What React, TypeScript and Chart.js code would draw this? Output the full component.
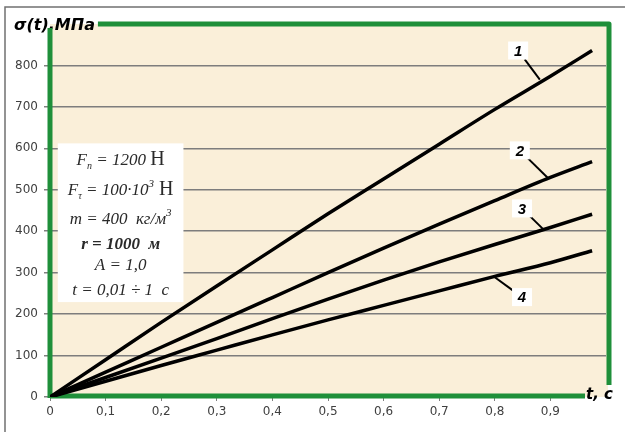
import React, { useEffect, useRef } from 'react';
import { Chart, registerables } from 'chart.js';

Chart.register(...registerables);

// ---- data ----
const tValues = [0, 0.1, 0.2, 0.3, 0.4, 0.5, 0.6, 0.7, 0.8, 0.9, 0.975];
const curve1 = [0, 90, 180, 268, 355, 442, 526, 610, 694, 774, 836];
const curve2 = [0, 60, 120, 180, 240, 300, 359, 417, 474, 530, 568];
const curve3 = [0, 47, 94, 141, 189, 236, 282, 326, 368, 409, 441];
const curve4 = [0, 38, 76, 113, 150, 186, 221, 256, 291, 324, 353];
const seriesNames = ['1', '2', '3', '4'];
const seriesValues = [curve1, curve2, curve3, curve4];

const yMin = 0;
const yMax = 900;
const yStep = 100;
const yLastLabel = 800;
const xMin = 0;
const xMax = 1;
const xStep = 0.1;
const xLastLabel = 0.9;

const yTitle = 'σ(t),МПа';
const xTitle = 't, c';

// parameter box text: [text, style]
const paramLines: [string, string][][] = [
  [['F', 'i'], ['п', 'sub'], [' = 1200 ', 'i'], ['Н', 'u']],
  [['F', 'i'], ['τ', 'sub'], [' = 100·10', 'i'], ['3', 'sup'], [' Н', 'u']],
  [['m = 400  кг/м', 'i'], ['3', 'sup']],
  [['r = 1000  м', 'ib']],
  [['A = 1,0', 'i']],
  [['t = 0,01 ÷ 1  c', 'i']],
];

// annotation anchors (data space)
const labelT = [0.842, 0.845, 0.849, 0.849];
const labelS = [836, 595, 455, 241];
const leaderT = [0.881, 0.896, 0.887, 0.8];
const leaderS = [766, 528, 405, 289];
const boxT = [0.014, 0.24];
const boxS = [612, 229];

const GREEN = '#1f8f3a';
const BEIGE = '#faefd9';

function fontFor(style: string): string {
  const fam = '"Liberation Serif", "Times New Roman", serif';
  switch (style) {
    case 'sub':
      return `italic 10px ${fam}`;
    case 'sup':
      return `italic 11px ${fam}`;
    case 'u':
      return `20px ${fam}`;
    case 'ib':
      return `italic bold 17px ${fam}`;
    default:
      return `italic 17px ${fam}`;
  }
}

const decorPlugin = {
  id: 'decor',
  beforeDraw(chart: any) {
    const { ctx, width, height, scales } = chart;
    const x = scales.x;
    const y = scales.y;
    ctx.save();
    ctx.fillStyle = '#ffffff';
    ctx.fillRect(0, 0, width, height);
    // outer frame
    ctx.strokeStyle = '#707070';
    ctx.lineWidth = 1.5;
    ctx.strokeRect(5, 7, width + 10, height + 10);
    // plot background
    const l = x.getPixelForValue(xMin);
    const r = x.getPixelForValue(xMax);
    const t = y.getPixelForValue(yMax);
    const b = y.getPixelForValue(yMin);
    ctx.fillStyle = BEIGE;
    ctx.fillRect(l, t, r - l + 2, b - t);
    ctx.restore();
  },
  beforeDatasetsDraw(chart: any) {
    const { ctx, scales } = chart;
    const x = scales.x;
    const y = scales.y;
    const l = x.getPixelForValue(xMin);
    const r = x.getPixelForValue(xMax) + 3;
    const t = y.getPixelForValue(yMax);
    const b = y.getPixelForValue(yMin) - 1;
    ctx.save();
    ctx.strokeStyle = GREEN;
    ctx.lineWidth = 5;
    ctx.lineCap = 'butt';
    ctx.lineJoin = 'round';
    // title
    ctx.font = 'oblique bold 16px "DejaVu Sans", Verdana, sans-serif';
    ctx.textBaseline = 'alphabetic';
    ctx.textAlign = 'left';
    ctx.fillStyle = '#000';
    ctx.fillText(yTitle, 14, 30);
    const tw = ctx.measureText(yTitle).width;
    // top + right
    ctx.beginPath();
    ctx.moveTo(14 + tw + 3, t);
    ctx.lineTo(r, t);
    ctx.lineTo(r, b - 11);
    ctx.stroke();
    // left
    ctx.beginPath();
    ctx.moveTo(l, t + 4);
    ctx.lineTo(l, b + 2);
    ctx.stroke();
    // bottom
    ctx.beginPath();
    ctx.moveTo(l, b);
    ctx.lineTo(r - 24, b);
    ctx.stroke();
    // x title
    ctx.font = 'oblique bold 15px "DejaVu Sans", Verdana, sans-serif';
    ctx.textBaseline = 'middle';
    ctx.fillText(xTitle, r - 23, b - 1);
    ctx.restore();
  },
  afterDatasetsDraw(chart: any) {
    const { ctx, scales } = chart;
    const x = scales.x;
    const y = scales.y;
    ctx.save();
    // parameter box
    const bx0 = x.getPixelForValue(boxT[0]);
    const bx1 = x.getPixelForValue(boxT[1]);
    const by0 = y.getPixelForValue(boxS[0]);
    const by1 = y.getPixelForValue(boxS[1]);
    ctx.fillStyle = '#ffffff';
    ctx.fillRect(bx0, by0, bx1 - bx0, by1 - by0);
    const cx = (bx0 + bx1) / 2;
    const offsets = [16, 46, 75, 100, 121, 146];
    ctx.fillStyle = '#2a2a2a';
    ctx.textBaseline = 'alphabetic';
    ctx.textAlign = 'left';
    paramLines.forEach((segs, i) => {
      let total = 0;
      segs.forEach(([txt, st]) => {
        ctx.font = fontFor(st);
        total += ctx.measureText(txt).width;
      });
      let px = cx - total / 2;
      const base = by0 + offsets[i] + 6;
      segs.forEach(([txt, st]) => {
        ctx.font = fontFor(st);
        let dy = 0;
        if (st === 'sub') dy = 4;
        if (st === 'sup') dy = -8;
        ctx.fillText(txt, px, base + dy);
        px += ctx.measureText(txt).width;
      });
    });
    // curve labels
    ctx.font = 'italic bold 15px "Liberation Sans", Arial, sans-serif';
    ctx.textAlign = 'center';
    ctx.textBaseline = 'middle';
    seriesNames.forEach((name, i) => {
      const lx = x.getPixelForValue(labelT[i]);
      const ly = y.getPixelForValue(labelS[i]);
      const px = x.getPixelForValue(leaderT[i]);
      const py = y.getPixelForValue(leaderS[i]);
      const dx = px - lx;
      const dy = py - ly;
      const d = Math.hypot(dx, dy);
      const sx = lx + (dx / d) * 11;
      const sy = ly + (dy / d) * 11;
      ctx.strokeStyle = '#000';
      ctx.lineWidth = 2;
      ctx.beginPath();
      ctx.moveTo(sx, sy);
      ctx.lineTo(px, py);
      ctx.stroke();
      ctx.fillStyle = '#ffffff';
      ctx.fillRect(lx - 10, ly - 9, 20, 18);
      ctx.fillStyle = '#000';
      ctx.fillText(name, lx, ly + 1);
    });
    ctx.restore();
  },
};

export default function App() {
  const ref = useRef<HTMLCanvasElement | null>(null);
  useEffect(() => {
    if (!ref.current) return;
    const datasets = seriesValues.map((vals, i) => ({
      label: seriesNames[i],
      data: tValues.map((t, j) => ({ x: t, y: vals[j] })),
      borderColor: '#000000',
      borderWidth: 3.5,
      pointRadius: 0,
      fill: false,
      cubicInterpolationMode: 'monotone' as const,
    }));
    const chart = new Chart(ref.current, {
      type: 'line',
      data: { datasets },
      plugins: [decorPlugin],
      options: {
        animation: false,
        responsive: false,
        devicePixelRatio: 1,
        layout: { padding: { top: 24, right: 19, left: 0, bottom: 0 } },
        plugins: {
          legend: { display: false },
          tooltip: { enabled: false },
        },
        scales: {
          x: {
            type: 'linear',
            min: xMin,
            max: xMax,
            afterBuildTicks: (s: any) => {
              s.ticks = s.ticks.filter((t: any) => t.value <= xLastLabel + 1e-9);
            },
            afterFit: (s: any) => {
              s.height = 35;
            },
            ticks: {
              stepSize: xStep,
              padding: 4,
              color: '#404040',
              font: { family: '"DejaVu Sans", Verdana, sans-serif', size: 12 },
              callback: (v: any) => (Number(v) === 0 ? '0' : Number(v).toFixed(1).replace('.', ',')),
              maxRotation: 0,
              autoSkip: false,
            },
            grid: {
              drawOnChartArea: false,
              drawTicks: true,
              tickLength: 4,
              color: '#808080',
            },
            border: { display: false },
          },
          y: {
            type: 'linear',
            min: yMin,
            max: yMax,
            afterBuildTicks: (s: any) => {
              s.ticks = s.ticks.filter((t: any) => t.value <= yLastLabel);
            },
            afterFit: (s: any) => {
              s.width = 50;
            },
            ticks: {
              stepSize: yStep,
              padding: 6,
              color: '#404040',
              font: { family: '"DejaVu Sans", Verdana, sans-serif', size: 12 },
            },
            grid: {
              color: (c: any) => (c.tick && c.tick.value === 0 ? 'rgba(0,0,0,0)' : '#7d7d7d'),
              lineWidth: 1.5,
              tickLength: 6,
              tickColor: '#808080',
            },
            border: { display: false },
          },
        },
      },
    });
    return () => chart.destroy();
  }, []);
  return (
    <div style={{ position: 'absolute', left: 0, top: 0, width: 625, height: 432 }}>
      <canvas ref={ref} width={625} height={432} style={{ display: 'block' }} />
    </div>
  );
}
